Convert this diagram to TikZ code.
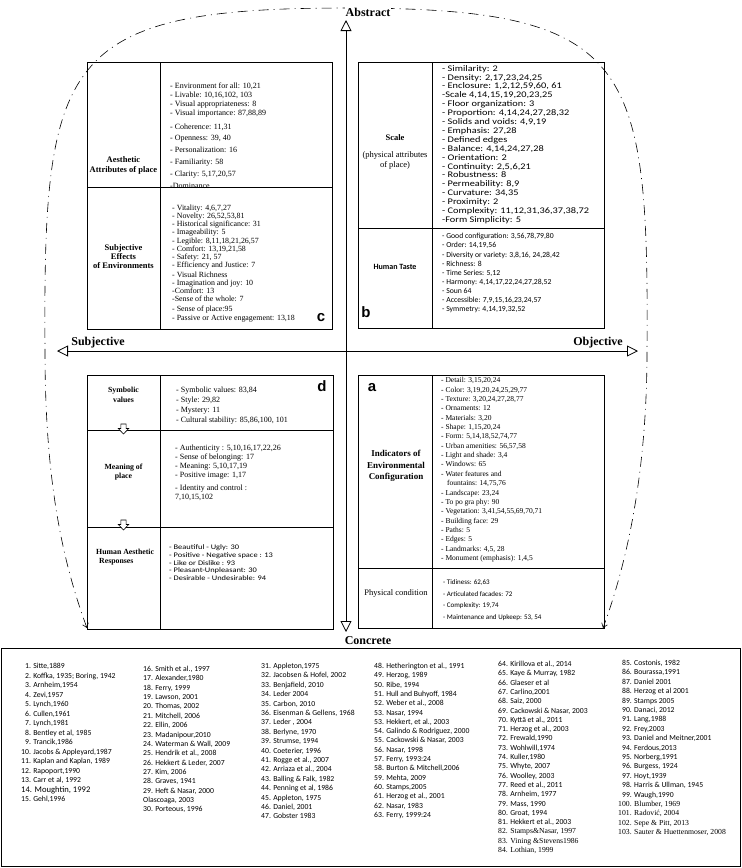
\documentclass[tikz,border=0pt]{standalone}
\usepackage{fontspec}
\setmainfont{Liberation Serif}
\newfontfamily\calib{Carlito}
\newfontfamily\calibw[FakeStretch=1.2]{Carlito}
\newfontfamily\sansb{Liberation Sans}
\usetikzlibrary{arrows.meta}

\begin{document}
\lineskiplimit=-5pt
\begin{tikzpicture}[x=1pt,y=-1pt,
  cell/.style={draw,line width=0.9pt,anchor=north west,inner sep=0pt},
  items/.style={anchor=north west,inner sep=0pt,align=left},
  heading/.style={align=center,inner sep=0pt,font=\bfseries\fontsize{8.5}{10}\selectfont},
  letter/.style={inner sep=0pt,font=\sansb\bfseries\fontsize{15}{15}\selectfont},
  pole/.style={inner sep=1pt,fill=white,font=\bfseries\fontsize{12}{12}\selectfont},
  axisline/.style={line width=0.8pt,
    {Triangle[open,length=11pt,width=11pt]}-{Triangle[open,length=11pt,width=11pt]}},
  curve/.style={line width=0.6pt,dash pattern=on 10pt off 5pt on 1pt off 5pt,
    {Straight Barb[length=4pt,width=6pt]}-{Straight Barb[length=4pt,width=6pt]}},
  hollow/.style={draw,fill=white,line width=0.6pt,line join=miter}
]
\useasboundingbox (0,0) rectangle (742,868);

% quadrant c
\node[cell,minimum width=73pt,minimum height=125pt] (cAttrHead) at (87,62) {};
\node[cell,minimum width=172pt,minimum height=125pt] (cAttrList) at (160,62) {};
\node[cell,minimum width=73pt,minimum height=142pt] (cEffHead) at (87,187) {};
\node[cell,minimum width=172pt,minimum height=142pt] (cEffList) at (160,187) {};
\node[heading] (cAttrTitle) at (123.5,165) {Aesthetic\\Attributes of place};
\node[heading,font=\bfseries\fontsize{8.5}{9}\selectfont] (cEffTitle) at (123.5,257)
  {Subjective\\Effects\\of Environments};
\node[items,font=\fontsize{8}{9.2}\selectfont] (cAttrItems) at (170,82.2)
  {- Environment for all: 10,21\\
   - Livable: 10,16,102, 103\\
   - Visual appropriateness: 8\\
   - Visual importance: 87,88,89\\[4.2pt]
   - Coherence: 11,31\\[2.6pt]
   - Openness: 39, 40\\[2.6pt]
   - Personalization: 16\\[2.6pt]
   - Familiarity: 58\\[2.6pt]
   - Clarity: 5,17,20,57\\[2.6pt]
   -Dominance};
\node[items,font=\fontsize{7.9}{8.1}\selectfont] (cEffItems) at (172,205)
  {- Vitality: 4,6,7,27\\
   - Novelty: 26,52,53,81\\
   - Historical significance: 31\\
   - Imageability: 5\\
   - Legible: 8,11,18,21,26,57\\
   - Comfort: 13,19,21,58\\
   - Safety: 21, 57\\
   - Efficiency and Justice: 7\\[2.2pt]
   - Visual Richness\\
   - Imagination and joy: 10\\
   -Comfort: 13\\
   -Sense of the whole: 7\\[1pt]
   - Sense of place:95\\[1.8pt]
   - Passive or Active engagement: 13,18};
\node[letter] (cTag) at (321,318) {c};

% quadrant b
\node[cell,minimum width=74pt,minimum height=166pt] (bScaleHead) at (358,62) {};
\node[cell,minimum width=172pt,minimum height=166pt] (bScaleList) at (432,62) {};
\node[cell,minimum width=74pt,minimum height=100pt] (bTasteHead) at (358,228) {};
\node[cell,minimum width=172pt,minimum height=100pt] (bTasteList) at (432,228) {};
\node[heading] (bScaleTitle) at (395,138) {Scale};
\node[heading,font=\fontsize{8.5}{10}\selectfont] (bScaleNote) at (395,160)
  {(physical attributes\\of place)};
\node[heading,font=\calib\bfseries\fontsize{8}{9}\selectfont] (bTasteTitle) at (395,267)
  {Human Taste};
\node[items,font=\calibw\fontsize{8.6}{8.9}\selectfont] (bScaleItems) at (442,65)
  {- Similarity: 2\\
   - Density: 2,17,23,24,25\\
   - Enclosure: 1,2,12,59,60, 61\\
   -Scale 4,14,15,19,20,23,25\\
   - Floor organization: 3\\
   - Proportion: 4,14,24,27,28,32\\
   - Solids and voids: 4,9,19\\
   - Emphasis: 27,28\\
   - Defined edges\\
   - Balance: 4,14,24,27,28\\
   - Orientation: 2\\
   - Continuity: 2,5,6,21\\
   - Robustness: 8\\
   - Permeability: 8,9\\
   - Curvature: 34,35\\
   - Proximity: 2\\
   - Complexity: 11,12,31,36,37,38,72\\
   -Form Simplicity: 5};
\node[items,font=\calib\fontsize{7.7}{9.1}\selectfont] (bTasteItems) at (442,233.3)
  {- Good configuration: 3,56,78,79,80\\
   - Order: 14,19,56\\
   - Diversity or variety: 3,8,16, 24,28,42\\
   - Richness: 8\\
   - Time Series: 5,12\\
   - Harmony: 4,14,17,22,24,27,28,52\\
   - Soun 64\\
   - Accessible: 7,9,15,16,23,24,57\\
   - Symmetry: 4,14,19,32,52};
\node[letter] (bTag) at (366,312) {b};

% quadrant d
\node[cell,minimum width=73pt,minimum height=55pt] (dSymHead) at (87,375) {};
\node[cell,minimum width=173pt,minimum height=55pt] (dSymList) at (160,375) {};
\node[cell,minimum width=73pt,minimum height=97pt] (dMeanHead) at (87,430) {};
\node[cell,minimum width=173pt,minimum height=97pt] (dMeanList) at (160,430) {};
\node[cell,minimum width=73pt,minimum height=102pt] (dRespHead) at (87,527) {};
\node[cell,minimum width=173pt,minimum height=102pt] (dRespList) at (160,527) {};
\node[heading,font=\bfseries\fontsize{7.8}{10}\selectfont] (dSymTitle) at (123.5,395)
  {Symbolic\\values};
\node[heading,font=\bfseries\fontsize{7.8}{9}\selectfont] (dMeanTitle) at (123.5,472)
  {Meaning of\\place};
\node[heading,align=left,anchor=west,font=\bfseries\fontsize{7.8}{8.5}\selectfont]
  (dRespTitle) at (96,557) {Human Aesthetic\\\hspace*{3pt}Responses};
\coordinate (dArrowA) at (123.5,429);
\coordinate (dArrowB) at (123.5,525);
\draw[hollow] (dArrowA) ++(-2.6,-5) -- ++(5.2,0) -- ++(0,4.5) -- ++(2.6,0)
  -- ++(-5.2,5.5) -- ++(-5.2,-5.5) -- ++(2.6,0) -- cycle;
\draw[hollow] (dArrowB) ++(-2.6,-5) -- ++(5.2,0) -- ++(0,4.5) -- ++(2.6,0)
  -- ++(-5.2,5.5) -- ++(-5.2,-5.5) -- ++(2.6,0) -- cycle;
\node[items,font=\fontsize{8}{10}\selectfont] (dSymItems) at (176,387.2)
  {- Symbolic values: 83,84\\
   - Style: 29,82\\
   - Mystery: 11\\
   - Cultural stability: 85,86,100, 101};
\node[items,font=\fontsize{8}{9}\selectfont] (dMeanItems) at (175,445.2)
  {- Authenticity : 5,10,16,17,22,26\\
   - Sense of belonging: 17\\
   - Meaning: 5,10,17,19\\
   - Positive image: 1,17\\[4pt]
   - Identity and control :\\
   7,10,15,102};
\node[items,font=\calibw\fontsize{7}{7.8}\selectfont] (dRespItems) at (169,544.5)
  {- Beautiful - Ugly: 30\\
   - Positive - Negative space : 13\\
   - Like or Dislike : 93\\
   - Pleasant-Unpleasant: 30\\
   - Desirable - Undesirable: 94};
\node[letter] (dTag) at (322,386) {d};

% quadrant a
\node[cell,minimum width=74pt,minimum height=193pt] (aIndHead) at (358,375) {};
\node[cell,minimum width=172pt,minimum height=193pt] (aIndList) at (432,375) {};
\node[cell,minimum width=74pt,minimum height=60pt] (aCondHead) at (358,568) {};
\node[cell,minimum width=172pt,minimum height=60pt] (aCondList) at (432,568) {};
\node[heading,font=\bfseries\fontsize{9}{11.5}\selectfont] (aIndTitle) at (396,466)
  {Indicators of\\Environmental\\Configuration};
\node[heading,font=\fontsize{8.5}{10}\selectfont] (aCondTitle) at (396,593)
  {Physical condition};
\node[items,font=\fontsize{7.5}{9.35}\selectfont] (aIndItems) at (441,377.4)
  {- Detail: 3,15,20,24\\
   - Color: 3,19,20,24,25,29,77\\
   - Texture: 3,20,24,27,28,77\\
   - Ornaments: 12\\
   - Materials: 3,20\\
   - Shape: 1,15,20,24\\
   - Form: 5,14,18,52,74,77\\
   - Urban amenities: 56,57,58\\
   - Light and shade: 3,4\\
   - Windows: 65\\
   - Water features and\\
   \hspace*{6pt}fountains: 14,75,76\\
   - Landscape: 23,24\\
   - To po gra phy: 90\\
   - Vegetation: 3,41,54,55,69,70,71\\
   - Building face: 29\\
   - Paths: 5\\
   - Edges: 5\\
   - Landmarks: 4,5, 28\\
   - Monument (emphasis): 1,4,5};
\node[items,font=\calib\fontsize{7}{11.7}\selectfont] (aCondItems) at (443,579.5)
  {- Tidiness: 62,63\\
   - Articulated facades: 72\\
   - Complexity: 19,74\\
   - Maintenance and Upkeep: 53, 54};
\node[letter] (aTag) at (372,388) {a};

% outer dashed loop
\coordinate (curveL) at (87,628);
\coordinate (curveR) at (603,628);
\draw[curve] (curveL) .. controls (62,560) and (45,480) .. (45,351)
  .. controls (43,60) and (60,8) .. (346,8)
  .. controls (632,8) and (649,60) .. (647,351)
  .. controls (647,470) and (628,560) .. (curveR);

% axes
\coordinate (topEnd) at (346,20);
\coordinate (bottomEnd) at (346,632);
\coordinate (leftEnd) at (57,351);
\coordinate (rightEnd) at (638,351);
\draw[axisline] (bottomEnd) -- (topEnd);
\draw[axisline] (leftEnd) -- (rightEnd);
\node[pole] (abstract) at (368,12) {Abstract};
\node[pole] (concrete) at (368,641) {Concrete};
\node[pole,fill=none] (subjective) at (98,343) {Subjective};
\node[pole,fill=none] (objective) at (598,343) {Objective};

% references
\node[cell,minimum width=739pt,minimum height=218pt] (refBox) at (1,648) {};
\node[items,font=\calib\fontsize{7.7}{9.5}\selectfont] (refCol1) at (21,663)
  {\hphantom{0}1. Sitte,1889\\
   \hphantom{0}2. Koffka, 1935; Boring, 1942\\
   \hphantom{0}3. Arnheim,1954\\
   \hphantom{0}4. Zevi,1957\\
   \hphantom{0}5. Lynch,1960\\
   \hphantom{0}6. Cullen,1961\\
   \hphantom{0}7. Lynch,1981\\
   \hphantom{0}8. Bentley et al, 1985\\
   \hphantom{0}9. Trancik,1986\\
   10. Jacobs \& Appleyard,1987\\
   11. Kaplan and Kaplan, 1989\\
   12. Rapoport,1990\\
   13. Carr et al, 1992\\
   {\fontsize{8.6}{9.5}\selectfont 14. Moughtin, 1992}\\
   15. Gehl,1996};
\node[items,font=\calib\fontsize{7.7}{9.35}\selectfont] (refCol2) at (143,666)
  {16. Smith et al., 1997\\
   17. Alexander,1980\\
   18. Ferry, 1999\\
   19. Lawson, 2001\\
   20. Thomas, 2002\\
   21. Mitchell, 2006\\
   22. Ellin, 2006\\
   23. Madanipour,2010\\
   24. Waterman \& Wall, 2009\\
   25. Hendrik et al., 2008\\
   26. Hekkert \& Leder, 2007\\
   27. Kim, 2006\\
   28. Graves, 1941\\
   29. Heft \& Nasar, 2000\\
   Olascoaga, 2003\\
   30. Porteous, 1996};
\node[items,font=\calib\fontsize{7.7}{9.4}\selectfont] (refCol3) at (261,663)
  {31. Appleton,1975\\
   32. Jacobsen \& Hofel, 2002\\
   33. Benjafield, 2010\\
   34. Leder 2004\\
   35. Carbon, 2010\\
   36. Eisenman \& Gellens, 1968\\
   37. Leder , 2004\\
   38. Berlyne, 1970\\
   39. Strumse, 1994\\
   40. Coeterier, 1996\\
   41. Rogge et al., 2007\\
   42. Arriaza et al., 2004\\
   43. Balling \& Falk, 1982\\
   44. Penning et al, 1986\\
   45. Appleton, 1975\\
   46. Daniel, 2001\\
   47. Gobster 1983};
\node[items,font=\calib\fontsize{7.7}{9.3}\selectfont] (refCol4) at (374,663)
  {48. Hetherington et al., 1991\\
   49. Herzog, 1989\\
   50. Ribe, 1994\\
   51. Hull and Buhyoff, 1984\\
   52. Weber et al., 2008\\
   53. Nasar, 1994\\
   53. Hekkert, et al., 2003\\
   54. Galindo \& Rodriguez, 2000\\
   55. Cackowski \& Nasar, 2003\\
   56. Nasar, 1998\\
   57. Ferry, 1993:24\\
   58. Burton \& Mitchell,2006\\
   59. Mehta, 2009\\
   60. Stamps,2005\\
   61. Herzog et al., 2001\\
   62. Nasar, 1983\\
   63. Ferry, 1999:24};
\node[items,font=\calib\fontsize{7.7}{9.3}\selectfont] (refCol5) at (498,661)
  {64. Kirillova et al., 2014\\
   65. Kaye \& Murray, 1982\\
   66. Glaeser et al\\
   67. Carlino,2001\\
   68. Saiz, 2000\\
   69. Cackowski \& Nasar, 2003\\
   70. Kyttä et al., 2011\\
   71. Herzog et al., 2003\\
   72. Frewald,1990\\
   73. Wohlwill,1974\\
   74. Kuller,1980\\
   75. Whyte, 2007\\
   76. Woolley, 2003\\
   77. Reed et al., 2011\\
   78. Arnheim, 1977\\
   79. Mass, 1990\\
   80. Groat, 1994\\
   81. Hekkert et al., 2003\\
   {\rmfamily 82. Stamps\&Nasar, 1997}\\
   {\rmfamily 83. Vining \&Stevens1986}\\
   {\rmfamily 84. Lothian, 1999}};
\node[items,font=\calib\fontsize{7.7}{9.4}\selectfont] (refCol6) at (618,660)
  {\hphantom{0}85. Costonis, 1982\\
   \hphantom{0}86. Bourassa,1991\\
   \hphantom{0}87. Daniel 2001\\
   \hphantom{0}88. Herzog et al 2001\\
   \hphantom{0}89. Stamps 2005\\
   \hphantom{0}90. Danaci, 2012\\
   \hphantom{0}91. Lang,1988\\
   \hphantom{0}92. Frey,2003\\
   \hphantom{0}93. Daniel and Meitner,2001\\
   \hphantom{0}94. Ferdous,2013\\
   \hphantom{0}95. Norberg,1991\\
   \hphantom{0}96. Burgess, 1924\\
   \hphantom{0}97. Hoyt,1939\\
   \hphantom{0}98. Harris \& Ullman, 1945\\
   \hphantom{0}99. Waugh,1990\\
   {\rmfamily 100. Blumber, 1969}\\
   {\rmfamily 101. Radović, 2004}\\
   {\rmfamily 102. Sepe \& Pitt, 2013}\\
   {\rmfamily 103. Sauter \& Huettenmoser, 2008}};
\end{tikzpicture}
\end{document}
